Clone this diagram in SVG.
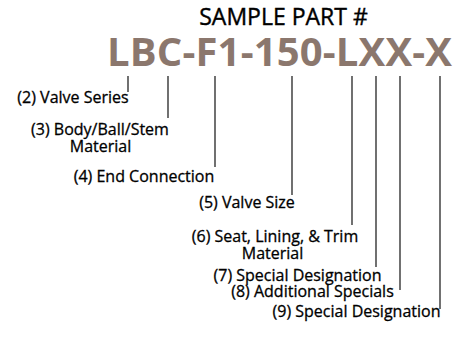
<svg xmlns="http://www.w3.org/2000/svg" width="457" height="337" viewBox="0 0 457 337">
<style>
.lbl{font-family:"Open Sans","Liberation Sans",sans-serif;font-size:16px;fill:#000;stroke:#000;stroke-width:0.3;text-anchor:middle}
.ttl{font-family:"Open Sans","Liberation Sans",sans-serif;font-size:23px;fill:#000;stroke:#000;stroke-width:0.4;text-anchor:middle}
.pn{font-family:"Open Sans","Liberation Sans",sans-serif;font-size:40px;font-weight:bold;fill:#8b776d;text-anchor:middle}
.ln{stroke:#111;stroke-width:1.2;fill:none}
</style>
<rect width="457" height="337" fill="#fff"/>
<g id="title">
<text class="ttl" x="283.5" y="25">SAMPLE PART #</text>
<text class="pn" x="279.5" y="66" textLength="345" lengthAdjust="spacing">LBC-F1-150-LXX-X</text>
</g>
<g id="connectors">
<line class="ln" x1="128" y1="76" x2="128" y2="92"/>
<line class="ln" x1="168" y1="76" x2="168" y2="118"/>
<line class="ln" x1="215" y1="76" x2="215" y2="167"/>
<line class="ln" x1="292" y1="76" x2="292" y2="195"/>
<line class="ln" x1="352" y1="76" x2="352" y2="225"/>
<line class="ln" x1="376" y1="76" x2="376" y2="267"/>
<line class="ln" x1="400" y1="76" x2="400" y2="290"/>
<line class="ln" x1="440" y1="76" x2="440" y2="309" stroke="#444" stroke-width="1.4"/>
</g>
<g id="n2"><text class="lbl" x="73" y="103">(2) Valve Series</text></g>
<g id="n3"><text class="lbl" x="100" y="135">(3) Body/Ball/Stem</text><text class="lbl" x="100.5" y="152">Material</text></g>
<g id="n4"><text class="lbl" x="144" y="182">(4) End Connection</text></g>
<g id="n5"><text class="lbl" x="247" y="208">(5) Valve Size</text></g>
<g id="n6"><text class="lbl" x="275" y="242">(6) Seat, Lining, &amp; Trim</text><text class="lbl" x="272.5" y="259">Material</text></g>
<g id="n7"><text class="lbl" x="297.5" y="281">(7) Special Designation</text></g>
<g id="n8"><text class="lbl" x="312.5" y="297">(8) Additional Specials</text></g>
<g id="n9"><text class="lbl" x="356.5" y="317">(9) Special Designation</text></g>
</svg>
